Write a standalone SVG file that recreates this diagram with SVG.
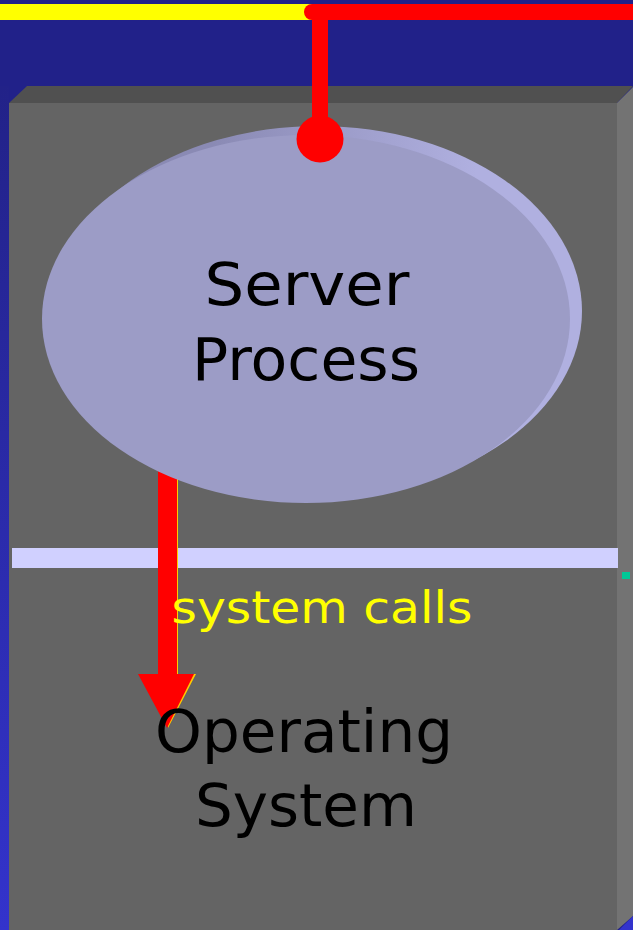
<svg xmlns="http://www.w3.org/2000/svg" width="633" height="930" viewBox="0 0 633 930">
  <defs>
    <linearGradient id="leftStrip" x1="0" y1="0" x2="0" y2="1">
      <stop offset="0" stop-color="#222288"/>
      <stop offset="1" stop-color="#3333cc"/>
    </linearGradient>
    <linearGradient id="rim" x1="0" y1="0" x2="1" y2="0">
      <stop offset="0.3" stop-color="#8a8ab4"/>
      <stop offset="0.8" stop-color="#b0b0e0"/>
    </linearGradient>
    <style>
      .lbl { font-family: "Comic Sans MS", "DejaVu Sans", "Noto Sans", sans-serif; text-anchor: middle; }
      .big { font-size: 58px; fill: #000000; }
      .call { font-size: 44px; fill: #ffff00; }
    </style>
  </defs>

  <!-- background -->
  <rect x="0" y="0" width="633" height="930" fill="#212189"/>
  <rect x="0" y="86" width="9" height="844" fill="url(#leftStrip)"/>

  <!-- 3D box -->
  <g id="box">
    <polygon points="9,103 27,86 633,86 617,103" fill="#505050"/>
    <polygon points="617,103 633,87 633,916 617,930" fill="#737373"/>
    <polygon points="633,916 633,930 619,930" fill="#3333cc"/>
    <rect x="9" y="103" width="608" height="827" fill="#646464"/>
  </g>

  <!-- kernel boundary bar -->
  <g id="boundary">
    <rect x="12" y="548" width="606" height="20" fill="#d0d0ff"/>
    <rect x="622" y="572" width="8" height="7" fill="#00c896"/>
  </g>

  <!-- connectors -->
  <g id="connectors">
    <rect x="0" y="4" width="312" height="16" fill="#ffff00"/>
    <rect x="312" y="4" width="321" height="16" fill="#ff0000"/>
    <circle cx="312" cy="12" r="8" fill="#ff0000"/>
    <rect x="312" y="12" width="16" height="128" fill="#ff0000"/>
    <!-- system call arrow -->
    <polygon points="159,460 178,460 178,674 196,674 168,728" fill="#ffcc00"/>
    <polygon points="158,460 177,460 177,674 194,674 167,728 138,674 158,674" fill="#ff0000"/>
  </g>

  <!-- Server Process node -->
  <g id="server-process">
    <ellipse cx="318" cy="311" rx="264" ry="185" fill="url(#rim)"/>
    <ellipse cx="306" cy="319" rx="264" ry="184" fill="#9c9cc6"/>
    <circle cx="320" cy="139" r="23.5" fill="#ff0000"/>
    <text class="lbl big" x="307" y="305" textLength="205" lengthAdjust="spacingAndGlyphs">Server</text>
    <text class="lbl big" x="306" y="380" textLength="228" lengthAdjust="spacingAndGlyphs">Process</text>
  </g>

  <!-- system calls label -->
  <g id="system-calls-label">
    <text class="lbl call" x="322" y="623" textLength="301" lengthAdjust="spacingAndGlyphs">system calls</text>
  </g>

  <!-- Operating System node -->
  <g id="operating-system">
    <text class="lbl big" x="304" y="752" textLength="298" lengthAdjust="spacingAndGlyphs">Operating</text>
    <text class="lbl big" x="306" y="826" textLength="222" lengthAdjust="spacingAndGlyphs">System</text>
  </g>
</svg>
